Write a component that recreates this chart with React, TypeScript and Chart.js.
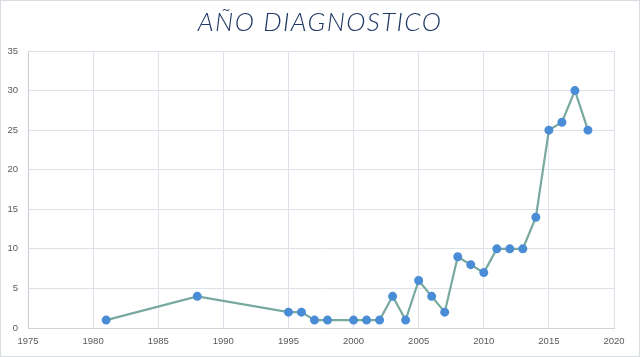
import React, { useEffect, useRef } from "react";
import { Chart, registerables } from "chart.js";

Chart.register(...registerables);

const years = [1981, 1988, 1995, 1996, 1997, 1998, 2000, 2001, 2002, 2003, 2004, 2005, 2006, 2007, 2008, 2009, 2010, 2011, 2012, 2013, 2014, 2015, 2016, 2017, 2018];
const counts = [1, 4, 2, 2, 1, 1, 1, 1, 1, 4, 1, 6, 4, 2, 9, 8, 7, 10, 10, 10, 14, 25, 26, 30, 25];
const titleText = "AÑO DIAGNOSTICO";

export default function App() {
  const ref = useRef<HTMLCanvasElement | null>(null);
  useEffect(() => {
    document.body.style.margin = "0";
    const ctx = ref.current!;
    const chart = new Chart(ctx, {
      type: "line",
      data: {
        datasets: [
          {
            data: years.map((y, i) => ({ x: y, y: counts[i] })),
            borderColor: "#78a99f",
            borderWidth: 2.2,
            pointBackgroundColor: "#4a8dd6",
            pointBorderColor: "#4a8dd6",
            pointRadius: 3.4,
            tension: 0,
          },
        ],
      },
      options: {
        animation: false,
        responsive: false,
        layout: { padding: { top: 51, right: 26, left: 0, bottom: 0 } },
        plugins: { legend: { display: false }, title: { display: false }, tooltip: { enabled: false } },
        scales: {
          x: {
            type: "linear",
            min: 1975,
            max: 2020,
            ticks: { stepSize: 5, padding: 8, color: "#595959", font: { family: "Liberation Sans", size: 9.5 }, callback: (v: any) => String(v) },
            grid: { color: "#dde2ea", drawTicks: false },
            border: { color: "#d0d5dc" },
            afterFit: (s: any) => { s.height = 29; },
          },
          y: {
            min: 0,
            max: 35,
            ticks: { stepSize: 5, padding: 10, color: "#595959", font: { family: "Liberation Sans", size: 9.5 } },
            grid: { color: "#dde2ea", drawTicks: false },
            border: { color: "#c8ced6" },
            afterFit: (s: any) => { s.width = 28; },
          },
        },
      },
    });
    return () => chart.destroy();
  }, []);
  return (
    <div style={{ position: "relative", width: 640, height: 357, background: "#fff" }}>
      <canvas ref={ref} width={640} height={357} style={{ position: "absolute", left: 0, top: 0 }} />
      <div
        style={{
          position: "absolute",
          left: 0,
          top: 5,
          width: 640,
          textAlign: "center",
          fontFamily: "Lato",
          fontStyle: "italic",
          fontWeight: 300,
          fontSize: 26,
          letterSpacing: 1.4,
          color: "#1f3864",
        }}
      >
        {titleText}
      </div>
      <div style={{ position: "absolute", left: 0, top: 0, width: 638, height: 355, border: "1px solid #d9dde3", pointerEvents: "none" }} />
    </div>
  );
}
